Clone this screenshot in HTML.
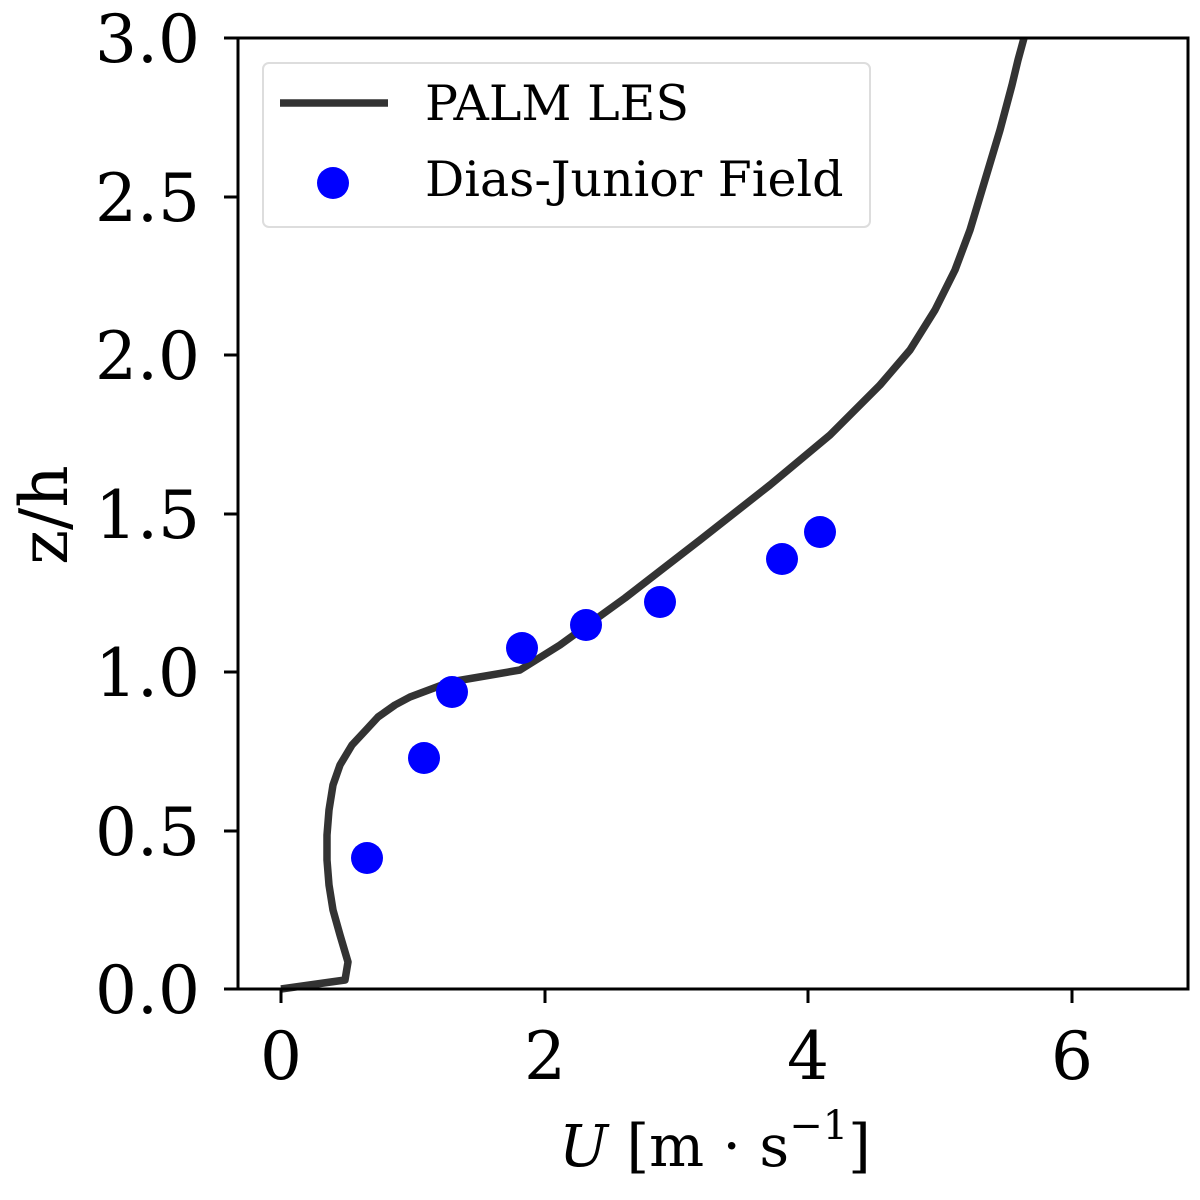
<!DOCTYPE html>
<html><head><style>body{margin:0;background:#fff}svg{display:block}</style></head>
<body>
<svg width="1200" height="1200" xmlns="http://www.w3.org/2000/svg" font-family="DejaVu Serif, Liberation Serif, serif">
<rect width="1200" height="1200" fill="#fff"/>
<polyline fill="none" stroke="#333" stroke-width="7.5" stroke-linejoin="round" points="281,989 345,980 348,962 340,935 333,910 329,885 327,860 327,835 329,810 333,785 340,765 352,745 366,730 378,717 395,705 410,697 450,682 520,670 560,645 625,598 700,540 770,485 830,435 880,385 910,350 935,310 955,270 970,230 985,180 1000,130 1012,85 1018,60 1024,38"/>
<g fill="#0000ff">
<circle cx="367" cy="858" r="16"/><circle cx="424" cy="758" r="16"/><circle cx="452" cy="692" r="16"/><circle cx="522" cy="648" r="16"/><circle cx="586" cy="625" r="16"/><circle cx="660" cy="602" r="16"/><circle cx="782" cy="559" r="16"/><circle cx="820" cy="532" r="16"/>
</g>
<rect x="238" y="38" width="950" height="951" fill="none" stroke="#000" stroke-width="3"/>
<g stroke="#000" stroke-width="3">
<line x1="281" y1="989" x2="281" y2="1003"/><line x1="545" y1="989" x2="545" y2="1003"/><line x1="808" y1="989" x2="808" y2="1003"/><line x1="1072" y1="989" x2="1072" y2="1003"/>
<line x1="224" y1="989" x2="238" y2="989"/><line x1="224" y1="831" x2="238" y2="831"/><line x1="224" y1="672" x2="238" y2="672"/><line x1="224" y1="514" x2="238" y2="514"/><line x1="224" y1="355" x2="238" y2="355"/><line x1="224" y1="197" x2="238" y2="197"/><line x1="224" y1="38" x2="238" y2="38"/>
</g>
<g font-size="66" fill="#000" text-anchor="middle">
<text x="281" y="1079">0</text><text x="545" y="1079">2</text><text x="808" y="1079">4</text><text x="1072" y="1079">6</text>
</g>
<g font-size="66" fill="#000" text-anchor="end">
<text x="200" y="1013">0.0</text><text x="200" y="855">0.5</text><text x="200" y="696">1.0</text><text x="200" y="538">1.5</text><text x="200" y="379">2.0</text><text x="200" y="221">2.5</text><text x="200" y="62">3.0</text>
</g>
<text x="715" y="1166" font-size="58" text-anchor="middle"><tspan font-style="italic">U</tspan> [m · s<tspan font-size="40" dy="-27">−1</tspan><tspan dy="27">]</tspan></text>
<text transform="translate(67,515) rotate(-90)" font-size="66" text-anchor="middle">z/h</text>
<rect x="263" y="63" width="607" height="164" rx="6" fill="#fff" fill-opacity="0.8" stroke="#ddd" stroke-width="2"/>
<line x1="280" y1="103" x2="388" y2="103" stroke="#333" stroke-width="7.5"/>
<circle cx="333" cy="183" r="16" fill="#0000ff"/>
<text x="425" y="120" font-size="49">PALM LES</text>
<text x="425" y="196" font-size="49">Dias-Junior Field</text>
</svg>
</body></html>
